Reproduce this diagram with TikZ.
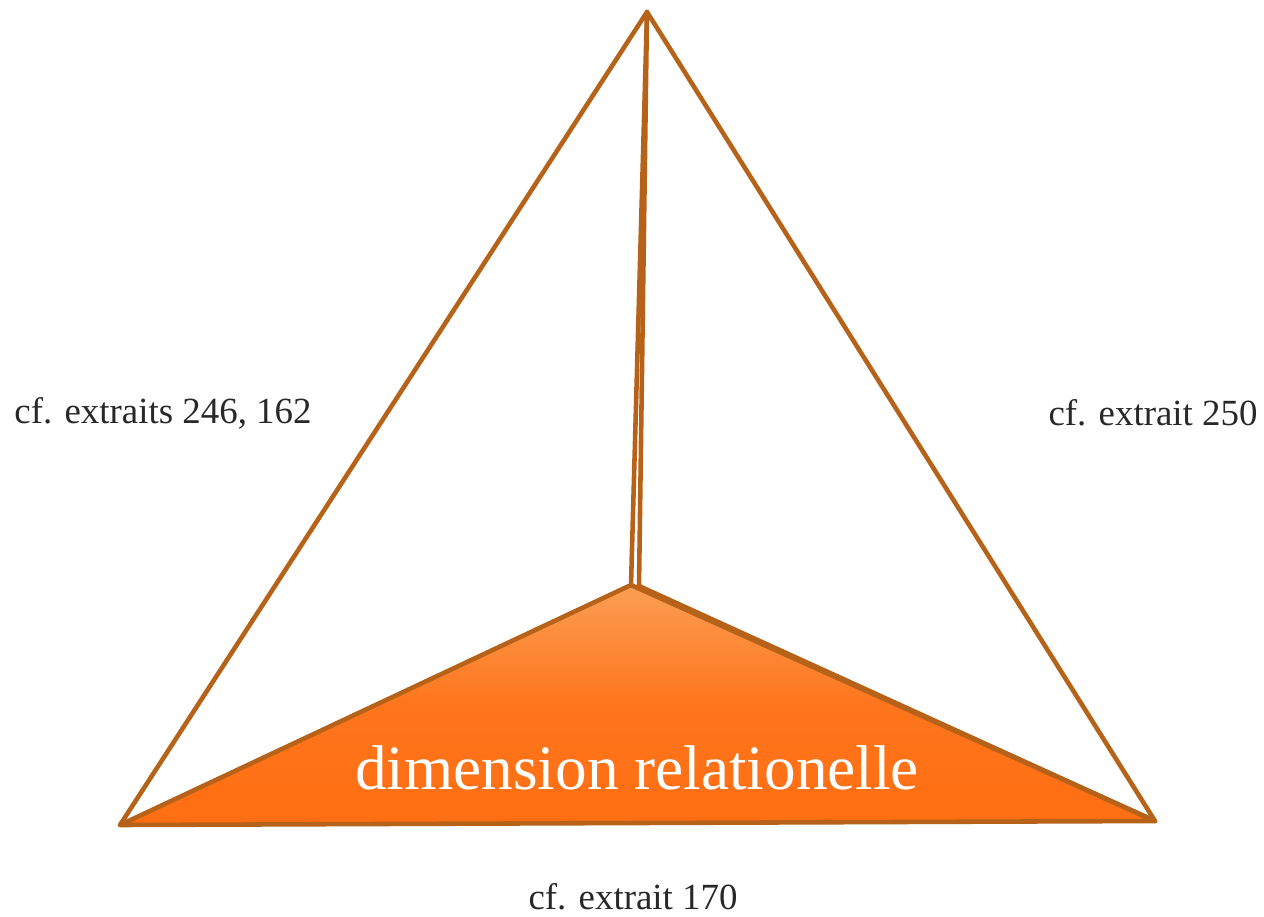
\documentclass[tikz,border=0pt]{standalone}
\usepackage{fontspec}
\setmainfont{Liberation Serif}
\definecolor{arete}{RGB}{182,98,24}
\definecolor{orangehaut}{RGB}{250,158,84}
\definecolor{orangebas}{RGB}{255,110,18}
\definecolor{texte}{RGB}{40,40,40}
\begin{document}
\begin{tikzpicture}[x=0.02cm, y=-0.02cm, line join=round, line cap=round,
    arete/.style={draw=arete, line width=2.6pt},
    renvoi/.style={text=texte, inner sep=0pt, font=\fontsize{21}{25}\selectfont},
    face/.style={text=white, font=\fontsize{36}{42}\selectfont}]
  \useasboundingbox (0,0) rectangle (1264,916);

  % 1. sommets du tetraedre
  \coordinate (sommet) at (647,12);
  \coordinate (centre) at (631,585);
  \coordinate (centreb) at (639,586);
  \coordinate (gauche) at (120,825);
  \coordinate (droite) at (1155,821);

  % 2. face de base (degrade orange)
  \shade[top color=orangehaut, bottom color=orangebas, middle color=orangebas!85!orangehaut,
         shading angle=0] (gauche) -- (centre) -- (droite) -- cycle;
  \draw[arete] (gauche) -- (centre) -- (droite) -- cycle;
  \draw[arete] (centreb) -- (droite);

  % 3. aretes vers le sommet
  \draw[arete] (gauche) -- (sommet) -- (droite);
  \draw[arete] (sommet) -- (centre);
  \draw[arete] (sommet) -- (centreb);

  % 4. textes
  \node[face] (dimension) at (637,768) {dimension relationelle};
  \node[renvoi] (renvoig) at (163,413) {cf. extraits 246, 162};
  \node[renvoi] (renvoid) at (1153,413) {cf. extrait 250};
  \node[renvoi] (renvoib) at (633,897) {cf. extrait 170};
\end{tikzpicture}
\end{document}
